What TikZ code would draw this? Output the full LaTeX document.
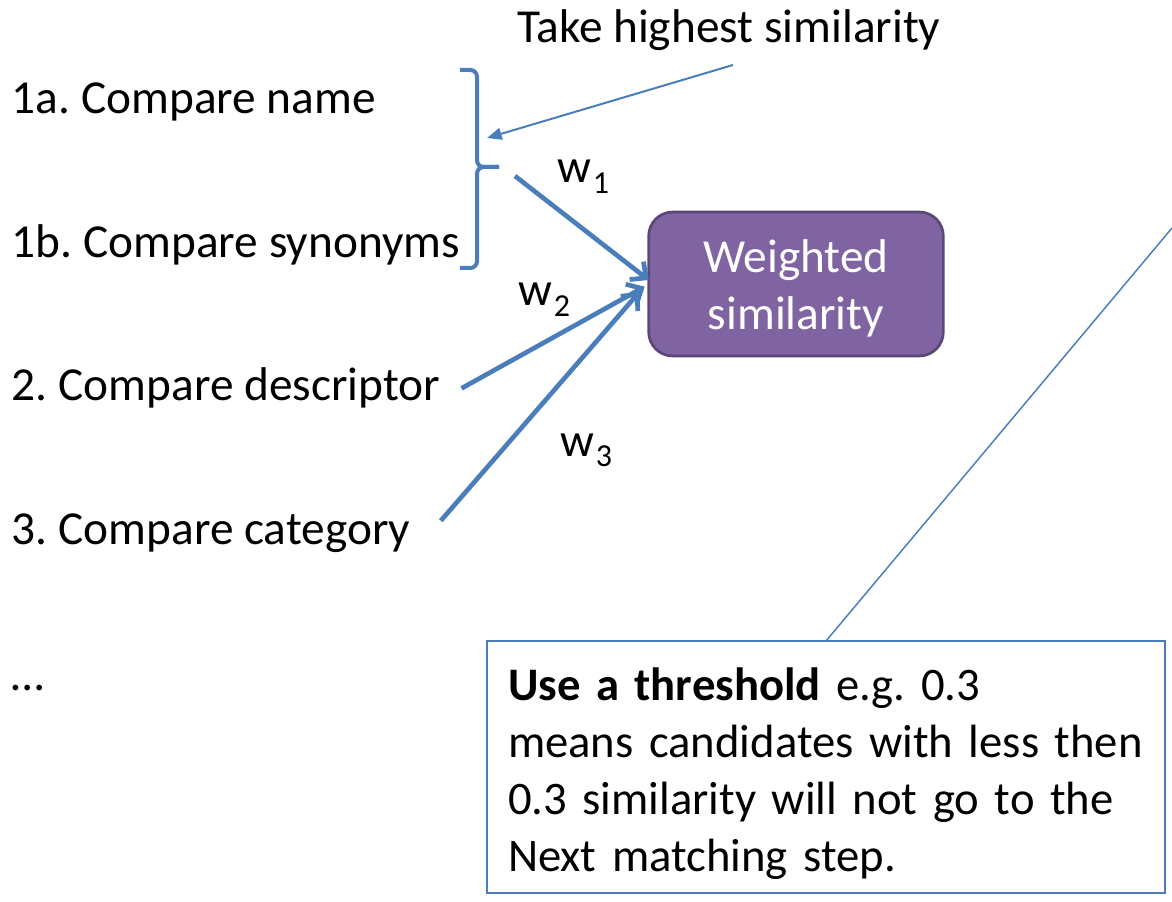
\documentclass[tikz,border=0pt]{standalone}
\usepackage{fontspec}
\setmainfont{Carlito}
\usetikzlibrary{arrows.meta}
\definecolor{lblue}{HTML}{4A7EBB}
\definecolor{pfill}{HTML}{8064A2}
\definecolor{pdraw}{HTML}{5C4776}
\newcommand{\wsub}[1]{w\kern1.5pt\raisebox{-8pt}{\fontsize{24}{24}\selectfont #1}}
\frenchspacing
\begin{document}
\begin{tikzpicture}[x=0.75pt,y=-0.75pt,
  every node/.style={inner sep=0pt,outer sep=0pt},
  big/.style={font=\fontsize{35.5}{42.75}\selectfont\frenchspacing},
  lbl/.style={big,anchor=base west},
  wbox/.style={big,fill=pfill,draw=pdraw,line width=2pt,rounded corners=18pt,
    minimum width=221pt,minimum height=108pt,text=white,align=center},
  tbox/.style={draw=lblue,line width=1.1pt,minimum width=508.5pt,minimum height=189pt,anchor=north west},
  thick arrow/.style={draw=lblue,line width=3.5pt,-{Straight Barb[length=9pt,width=17pt]}},
  thin arrow/.style={draw=lblue,line width=1.5pt,-{Triangle[length=11pt,width=9pt]}},
  bracestyle/.style={draw=lblue,line width=3pt,rounded corners=5pt},
  callout/.style={draw=lblue,line width=1.1pt}]
\useasboundingbox (0,0) rectangle (1172,902);

\node[lbl] (take) at (517,43) {Take highest similarity};
\node[lbl] (n1a) at (12,114) {1a. Compare name};
\node[lbl] (n1b) at (12,258) {1b. Compare synonyms};
\node[lbl] (n2) at (12,401) {2. Compare descriptor};
\node[lbl] (n3) at (12,544) {3. Compare category};
\node[lbl] (dots) at (12,690) {…};

\node[wbox] (ws) at (796,284) {\rule{0pt}{31pt}Weighted\\similarity};

\node[lbl] (w1) at (557,183) {\wsub{1}};
\node[lbl] (w2) at (518,306) {\wsub{2}};
\node[lbl] (w3) at (560,456) {\wsub{3}};

% brace
\coordinate (bt) at (499,167);
\draw[bracestyle] (460,70) -- (477,70) -- (477,167) -- (bt);
\draw[bracestyle] (bt) -- (477,167) -- (477,268) -- (460,268);

% thin arrow
\coordinate (ts) at (733,65);
\coordinate (tt) at (487,138);
\draw[thin arrow] (ts) -- (tt);

% weighted arrows
\coordinate (w1s) at (515,176);
\draw[thick arrow] (w1s) -- ([yshift=3pt]ws.west);
\draw[thick arrow] ([xshift=16pt]n2.east) -- ([xshift=-3pt,yshift=-2pt]ws.west);
\draw[thick arrow] ([xshift=23pt,yshift=9pt]n3.east) -- ([xshift=-7pt,yshift=-6pt]ws.west);

% threshold box
\node[tbox] (thr) at (487,641) {};
\node[font=\fontsize{35}{42.75}\selectfont\frenchspacing,anchor=north west,text width=495pt,align=left] (thrtext) at (508,668)
  {\textbf{Use a threshold} e.g. 0.3\\means candidates with less then\\0.3 similarity will not go to the\\Next matching step.};
\coordinate (ce) at (1172,228);
\draw[callout] (thr.north) -- (ce);
\end{tikzpicture}
\end{document}
